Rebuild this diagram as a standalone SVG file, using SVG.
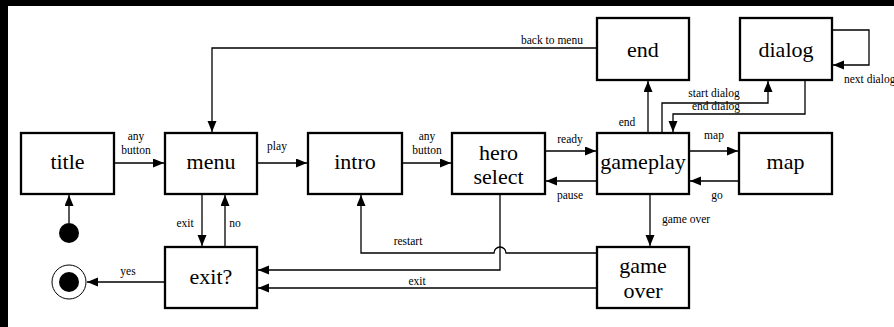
<svg xmlns="http://www.w3.org/2000/svg" width="894" height="327" viewBox="0 0 894 327">
<style>
.box{fill:#fff;stroke:#000;stroke-width:2.3}
.n{font-family:"Liberation Serif","Times New Roman",serif;font-size:22px;text-anchor:middle;fill:#000}
.l{font-family:"Liberation Serif","Times New Roman",serif;font-size:11.5px;text-anchor:middle;fill:#000}
.c{fill:none;stroke:#000;stroke-width:1.3}
</style>
<defs>
<marker id="ah" markerUnits="userSpaceOnUse" markerWidth="12" markerHeight="10" refX="11" refY="4.5" orient="auto">
<path d="M0,0 L11,4.5 L0,9 z" fill="#000"/>
</marker>
</defs>
<rect x="0" y="0" width="894" height="327" fill="#fff"/>
<rect x="0" y="0" width="894" height="6" fill="#000"/>
<rect x="0" y="0" width="8" height="327" fill="#000"/>

<g id="connectors">
<path class="c" d="M69,223 V195" marker-end="url(#ah)"/>
<path class="c" d="M114,163 H164" marker-end="url(#ah)"/>
<path class="c" d="M257,163 H307" marker-end="url(#ah)"/>
<path class="c" d="M402,163 H451" marker-end="url(#ah)"/>
<path class="c" d="M545,151 H596" marker-end="url(#ah)"/>
<path class="c" d="M596,181 H546" marker-end="url(#ah)"/>
<path class="c" d="M689,151 H738" marker-end="url(#ah)"/>
<path class="c" d="M739,181 H690" marker-end="url(#ah)"/>
<path class="c" d="M650,194 V246" marker-end="url(#ah)"/>
<path class="c" d="M648,133 V81" marker-end="url(#ah)"/>
<path class="c" d="M662,133 V103 H768 V81" marker-end="url(#ah)"/>
<path class="c" d="M805,80 V114 H673 V132" marker-end="url(#ah)"/>
<path class="c" d="M832,30 H869 V65 H833" marker-end="url(#ah)"/>
<path class="c" d="M596,48 H212 V132" marker-end="url(#ah)"/>
<path class="c" d="M202,194 V246" marker-end="url(#ah)"/>
<path class="c" d="M225,247 V195" marker-end="url(#ah)"/>
<path class="c" d="M165,282 H87" marker-end="url(#ah)"/>
<path class="c" d="M500,194 V270 H258" marker-end="url(#ah)"/>
<path class="c" d="M596,288 H258" marker-end="url(#ah)"/>
<path class="c" d="M596,253 H506 A6,6 0 0 0 494,253 H361 V195" marker-end="url(#ah)"/>
<text class="l" x="136" y="140">any</text>
<text class="l" x="136" y="154">button</text>
<text class="l" x="277" y="150">play</text>
<text class="l" x="185" y="227">exit</text>
<text class="l" x="235" y="227">no</text>
<text class="l" x="128" y="275">yes</text>
<text class="l" x="427" y="140">any</text>
<text class="l" x="427" y="154">button</text>
<text class="l" x="570" y="143">ready</text>
<text class="l" x="570" y="199">pause</text>
<text class="l" x="714" y="139">map</text>
<text class="l" x="717" y="199">go</text>
<text class="l" x="686" y="223">game over</text>
<text class="l" x="408" y="245">restart</text>
<text class="l" x="417" y="285">exit</text>
<text class="l" x="627" y="126">end</text>
<text class="l" x="714" y="97">start dialog</text>
<text class="l" x="716" y="110">end dialog</text>
<text class="l" x="844" y="83" style="text-anchor:start">next dialog</text>
<text class="l" x="552" y="44">back to menu</text>
</g>

<g id="start"><circle cx="69" cy="233" r="10" fill="#000"/></g>
<g id="final"><circle cx="69" cy="282" r="17" fill="#fff" stroke="#000" stroke-width="1"/><circle cx="69" cy="282" r="10" fill="#000"/></g>
<g id="title"><rect class="box" x="21" y="133" width="93" height="61"/><text class="n" x="67.5" y="169">title</text></g>
<g id="menu"><rect class="box" x="165" y="133" width="92" height="61"/><text class="n" x="211" y="169">menu</text></g>
<g id="intro"><rect class="box" x="308" y="133" width="94" height="61"/><text class="n" x="355" y="169">intro</text></g>
<g id="hero-select"><rect class="box" x="452" y="133" width="93" height="61"/><text class="n" x="498.5" y="160">hero</text><text class="n" x="498.5" y="184">select</text></g>
<g id="gameplay"><rect class="box" x="597" y="133" width="92" height="61"/><text class="n" x="643" y="169">gameplay</text></g>
<g id="map"><rect class="box" x="739" y="133" width="93" height="61"/><text class="n" x="785.5" y="169">map</text></g>
<g id="end"><rect class="box" x="597" y="18" width="92" height="62"/><text class="n" x="643" y="57">end</text></g>
<g id="dialog"><rect class="box" x="740" y="18" width="92" height="62"/><text class="n" x="786" y="57">dialog</text></g>
<g id="exit"><rect class="box" x="165" y="247" width="92" height="61"/><text class="n" x="211" y="284">exit?</text></g>
<g id="game-over"><rect class="box" x="597" y="247" width="92" height="61"/><text class="n" x="643" y="273">game</text><text class="n" x="643" y="298">over</text></g>
</svg>
